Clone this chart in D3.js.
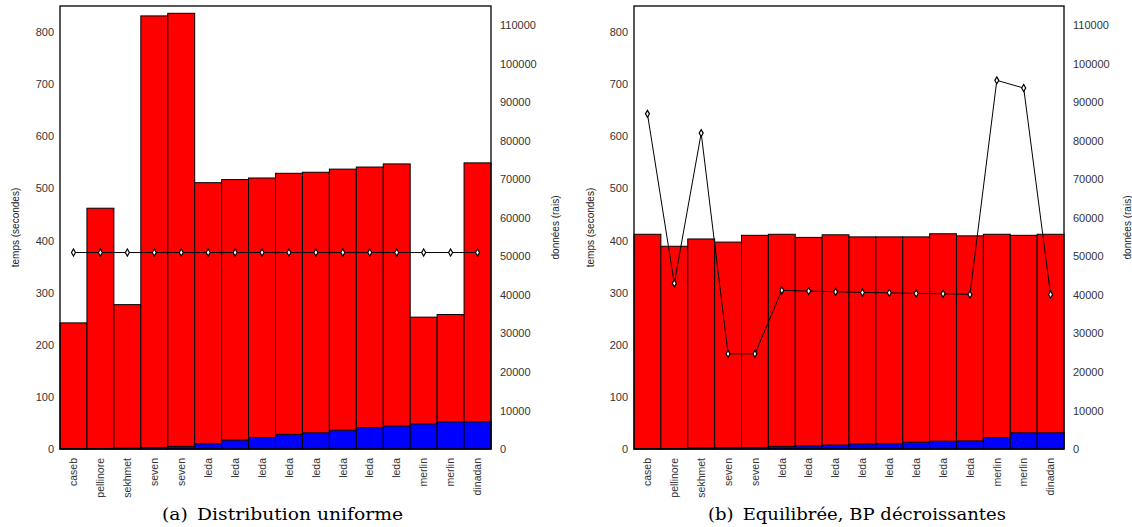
<!DOCTYPE html>
<html>
<head>
<meta charset="utf-8">
<script src="https://cdn.jsdelivr.net/npm/d3@7"></script>
<style>
  html, body { margin: 0; padding: 0; background: #fff; }
  svg { display: block; }
</style>
</head>
<body>
<svg id="chart" width="1132" height="527"></svg>
<script>
// ---------- data ----------
const categories = ["caseb","pellinore","sekhmet","seven","seven","leda","leda","leda","leda","leda","leda","leda","leda","merlin","merlin","dinadan"];
const leftTicks = [0,100,200,300,400,500,600,700,800];
const rightTicks = [0,10000,20000,30000,40000,50000,60000,70000,80000,90000,100000,110000];

// (a) Distribution uniforme
const totalA = [242,462,277,831,836,511,517,520,529,531,537,541,547,253,258,549];
const blueA  = [1,1,1.5,3,5,10,17,22,28,31,36,41,44,48,52,52];
const dataA  = [51000,51000,51000,51000,51000,51000,51000,51000,51000,51000,51000,51000,51000,51000,51000,51000];

// (b) Equilibrée, BP décroissantes
const totalB = [412,389,403,397,410,412,406,411,407,407,407,413,409,412,410,412];
const blueB  = [0.5,1,2,2.5,3,5,6,7.5,9.5,10,13,15,15.5,22,31,31];
const dataB  = [87000,43000,82000,24700,24700,41170,41000,40800,40640,40550,40380,40300,40120,95700,93700,40100];

const captionA = "(a)\u2002Distribution uniforme";
const captionB = "(b)\u2002Equilibrée, BP décroissantes";
const yTitleL = "temps (secondes)";
const yTitleR = "données (rais)";

// ---------- drawing ----------
const svg = d3.select("#chart");
const plotTop = 6, plotBottom = 449;

function panel(cfg) {
  const g = svg.append("g");
  const idx = d3.range(categories.length);
  const x = d3.scaleBand().domain(idx).range([cfg.x0, cfg.x1]).padding(0);
  const y = d3.scaleLinear().domain([0, 850]).range([plotBottom, plotTop]);
  const yR = d3.scaleLinear().domain([0, 115000]).range([plotBottom, plotTop]);

  g.selectAll("rect.red").data(cfg.total).join("rect")
    .attr("class", "red")
    .attr("x", (d, i) => x(i))
    .attr("width", x.bandwidth())
    .attr("y", d => y(d))
    .attr("height", d => y(0) - y(d))
    .attr("fill", "#ff0000")
    .attr("stroke", "#000")
    .attr("stroke-width", 1);

  g.selectAll("rect.blue").data(cfg.blue).join("rect")
    .attr("class", "blue")
    .attr("x", (d, i) => x(i))
    .attr("width", x.bandwidth())
    .attr("y", d => y(d))
    .attr("height", d => y(0) - y(d))
    .attr("fill", "#0000ff")
    .attr("stroke", "#000")
    .attr("stroke-width", 1);

  g.append("rect")
    .attr("x", cfg.x0).attr("y", plotTop)
    .attr("width", cfg.x1 - cfg.x0).attr("height", plotBottom - plotTop)
    .attr("fill", "none").attr("stroke", "#000").attr("stroke-width", 1.3);

  const line = d3.line()
    .x((d, i) => x(i) + x.bandwidth() / 2)
    .y(d => yR(d));
  g.append("path").datum(cfg.data)
    .attr("d", line)
    .attr("fill", "none").attr("stroke", "#000").attr("stroke-width", 1);
  g.selectAll("path.mk").data(cfg.data).join("path")
    .attr("class", "mk")
    .attr("transform", (d, i) => `translate(${x(i) + x.bandwidth() / 2},${yR(d)})`)
    .attr("d", d3.symbol(d3.symbolDiamond).size(14))
    .attr("fill", "#fff").attr("stroke", "#000").attr("stroke-width", 1.2);

  const ax = g.append("g").attr("transform", `translate(${cfg.x0},0)`)
    .call(d3.axisLeft(y).tickValues(leftTicks).tickSize(0).tickPadding(6).tickFormat(d3.format("d")));
  ax.select(".domain").remove();
  ax.selectAll("text").attr("font-family", "Liberation Sans, Arial, sans-serif")
    .attr("font-size", 11).attr("fill", "#333");

  const axR = g.append("g").attr("transform", `translate(${cfg.x1},0)`)
    .call(d3.axisRight(yR).tickValues(rightTicks).tickSize(0).tickPadding(9).tickFormat(d3.format("d")));
  axR.select(".domain").remove();
  axR.selectAll("text").attr("font-family", "Liberation Sans, Arial, sans-serif")
    .attr("font-size", 11).attr("fill", "#333");

  const axX = g.append("g").attr("transform", `translate(0,${plotBottom})`)
    .call(d3.axisBottom(x).tickSize(0).tickFormat(i => categories[i]));
  axX.select(".domain").remove();
  axX.selectAll("text")
    .attr("font-family", "Liberation Sans, Arial, sans-serif")
    .attr("font-size", 10.5).attr("fill", "#333")
    .attr("transform", "rotate(-90)")
    .attr("text-anchor", "end")
    .attr("x", -9).attr("y", 0).attr("dy", "0.35em");

  g.append("text")
    .attr("transform", `translate(${cfg.tl},${(plotTop + plotBottom) / 2}) rotate(-90)`)
    .attr("text-anchor", "middle").attr("dy", "0.35em")
    .attr("font-family", "Liberation Sans, Arial, sans-serif")
    .attr("font-size", 10).attr("fill", "#222")
    .text(yTitleL);
  g.append("text")
    .attr("transform", `translate(${cfg.tr},${(plotTop + plotBottom) / 2}) rotate(-90)`)
    .attr("text-anchor", "middle").attr("dy", "0.35em")
    .attr("font-family", "Liberation Sans, Arial, sans-serif")
    .attr("font-size", 10).attr("fill", "#222")
    .text(yTitleR);

  g.append("text")
    .attr("x", cfg.cx).attr("y", 519.5)
    .attr("text-anchor", "middle")
    .attr("font-family", "'DejaVu Serif', serif")
    .attr("font-size", 16.5).attr("fill", "#000")
    .attr("textLength", cfg.capW).attr("lengthAdjust", "spacingAndGlyphs")
    .text(cfg.caption);
}

panel({ x0: 60, x1: 491, total: totalA, blue: blueA, data: dataA, tl: 15, tr: 555, cx: 282.5, capW: 241, caption: captionA });
panel({ x0: 634, x1: 1064, total: totalB, blue: blueB, data: dataB, tl: 590, tr: 1127, cx: 857, capW: 298, caption: captionB });
</script>
</body>
</html>
